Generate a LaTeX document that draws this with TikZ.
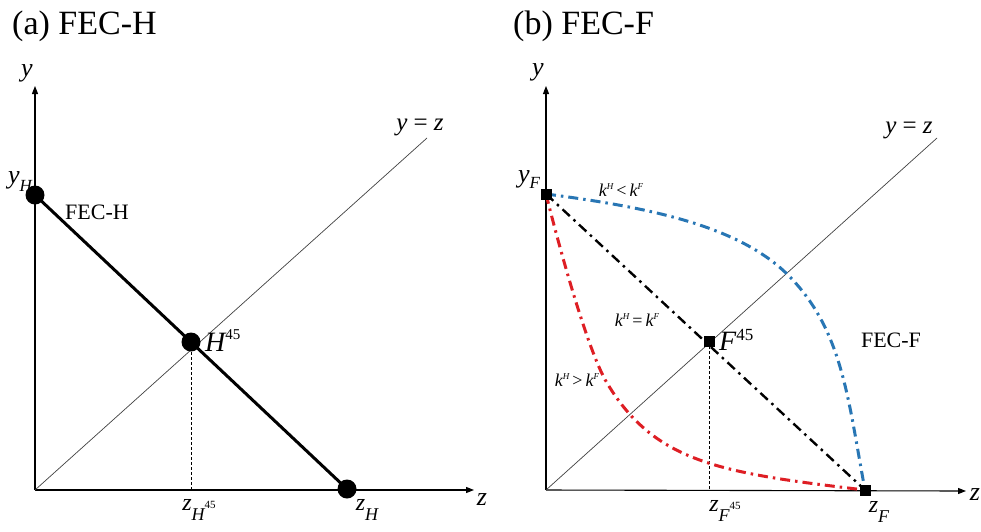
\documentclass[tikz,border=0pt]{standalone}
\usepackage{fontspec}
\setmainfont{Liberation Serif}
\usetikzlibrary{arrows.meta}
\newcommand\fs[1]{\fontsize{#1}{#1}\selectfont}
\newcommand\lowr[2]{\raisebox{-#1pt}{#2}}
\definecolor{cblue}{RGB}{40,118,180}
\definecolor{cred}{RGB}{222,30,36}
\pgfdeclarelayer{bg}
\pgfsetlayers{bg,main}
\begin{document}
\begin{tikzpicture}[x=1pt,y=-1pt,
  axis/.style={line width=1.1pt,-{Triangle[length=8pt,width=6pt]}},
  diag/.style={line width=0.7pt,black!75},
  guide/.style={line width=0.8pt,dash pattern=on 3pt off 2pt},
  dotpt/.style={circle,fill=black,inner sep=0pt,minimum size=19pt},
  sqpt/.style={rectangle,fill=black,inner sep=0pt,minimum size=11pt},
  ddash/.style={dash pattern=on 10pt off 5pt on 2.5pt off 5pt},
  lbl/.style={inner sep=0pt},
  vlbl/.style={inner sep=0pt,font=\fs{26}\itshape},
  ttl/.style={inner sep=0pt,anchor=base west,font=\fs{34}},
  klbl/.style={inner sep=0pt,font=\fs{18}\itshape}]
\useasboundingbox (0,0) rectangle (981,531);

% ---------- panel (a) ----------
\node[ttl] (ta) at (12,34) {(a) FEC-H};
\coordinate (oa) at (35,490);
\coordinate (ya) at (35,86);
\coordinate (za) at (474,490);
\coordinate (da) at (427,138);
\node[dotpt] (yH) at (35,195) {};
\node[dotpt] (zH) at (347,489) {};
\node[dotpt] (H45) at (191,342) {};

\begin{pgfonlayer}{bg}
\draw[axis] (oa) -- (ya);
\draw[axis] (oa) -- (za);
\draw[diag] (oa) -- (da);
\draw[guide] (H45.center) -- (H45.center |- oa);
\draw[line width=3pt] (yH.center) -- (zH.center);
\end{pgfonlayer}

\node[vlbl] (lya) at (27,73) {y};
\node[vlbl] (lza) at (482,500) {z};
\node[lbl,font=\fs{25}] (lyza) at (420,127) {\itshape y\upshape\ =\ \itshape z};
\node[lbl] (lyH) at (20,182) {\fs{26}\itshape y\lowr{8}{\fs{17}H}};
\node[lbl,font=\fs{22}] (lfecH) at (97,212) {FEC-H};
\node[lbl,anchor=base west] (lH45) at (205,351) {\fs{28}\itshape H\raisebox{12pt}{\fs{15}\upshape 45}};
\node[lbl] (lzH45) at (199,510) {\fs{24}\itshape z\lowr{10}{\fs{18}H}\raisebox{2pt}{\fs{11}\upshape 45}};
\node[lbl] (lzH) at (367,510) {\fs{24}\itshape z\lowr{10}{\fs{18}H}};

% ---------- panel (b) ----------
\node[ttl] (tb) at (513,34) {(b) FEC-F};
\coordinate (ob) at (546,490);
\coordinate (yb) at (546,86);
\coordinate (zb) at (966,491);
\coordinate (db) at (937,138);
\coordinate (rm) at (607,383);
\coordinate (bm) at (788,275);
\node[sqpt] (yF) at (546,194) {};
\node[sqpt] (zF) at (865,490) {};
\node[sqpt] (F45) at (709,341) {};

\begin{pgfonlayer}{bg}
\draw[axis] (ob) -- (yb);
\draw[axis] (ob) -- (zb);
\draw[diag] (ob) -- (db);
\draw[guide] (F45.center) -- (F45.center |- ob);
\draw[ddash,line width=2.4pt] (yF.center) -- (zF.center);
\draw[ddash,line width=3pt,cblue] (yF.center) .. controls (646,207) and (738,225) .. (bm)
   .. controls (843,330) and (848,400) .. (zF.center);
\draw[ddash,line width=3pt,cred] (yF.center) .. controls (564,266) and (590,355) .. (rm)
   .. controls (655,463) and (721,473) .. (zF.center);
\end{pgfonlayer}

\node[vlbl] (lyb) at (538,72) {y};
\node[vlbl] (lzb) at (975,495) {z};
\node[lbl,font=\fs{25}] (lyzb) at (909,130) {\itshape y\upshape\ =\ \itshape z};
\node[lbl] (lyF) at (529,180) {\fs{26}\itshape y\lowr{6}{\fs{17}F}};
\node[lbl,anchor=base west] (lF45) at (719,350) {\fs{28}\itshape F\raisebox{10pt}{\fs{17}\upshape 45}};
\node[lbl] (lzF45) at (725,511) {\fs{24}\itshape z\lowr{10}{\fs{18}F}\raisebox{2pt}{\fs{11}\upshape 45}};
\node[lbl] (lzF) at (879,512) {\fs{24}\itshape z\lowr{10}{\fs{18}F}};
\node[klbl] (k1) at (621,190) {k\raisebox{7pt}{\fs{9}H}\,\upshape<\,\itshape k\raisebox{7pt}{\fs{9}F}};
\node[klbl] (k2) at (637,320) {k\raisebox{7pt}{\fs{9}H}\,\upshape=\,\itshape k\raisebox{7pt}{\fs{9}F}};
\node[klbl] (k3) at (577,380) {k\raisebox{7pt}{\fs{9}H}\,\upshape>\,\itshape k\raisebox{7pt}{\fs{9}F}};
\node[lbl,font=\fs{22}] (lfecF) at (891,340) {FEC-F};
\end{tikzpicture}
\end{document}
